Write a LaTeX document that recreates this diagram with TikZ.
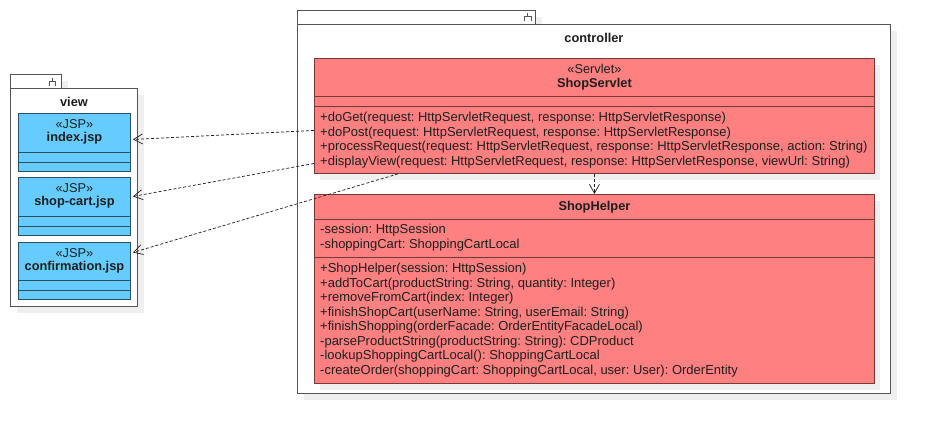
\documentclass[tikz,border=0pt]{standalone}
\usepackage{fontspec}
\setmainfont{Liberation Sans}
\usetikzlibrary{arrows.meta,shadows}
\frenchspacing
\tikzset{
  pkgbox/.style={draw=pkgline, fill=white, line width=0.9pt, inner sep=0pt, anchor=north west,
    drop shadow={shadow xshift=7pt, shadow yshift=-7pt, fill=shadowgrey, opacity=1}},
  pkgicon/.style={draw=pkgline, line width=0.8pt},
  pkgname/.style={font=\fontsize{12.8}{14}\selectfont\bfseries, text=txt},
  jspbox/.style={draw=jspline, fill=jspfill, line width=0.9pt, inner sep=0pt, anchor=north west,
    minimum width=112pt},
  classbox/.style={draw=clsline, fill=clsfill, line width=0.9pt, inner sep=0pt, anchor=north west,
    minimum width=560pt, drop shadow={shadow xshift=6pt, shadow yshift=-7pt, fill=shadowgrey, opacity=1}},
  stereo/.style={font=\fontsize{12.8}{14}\selectfont, text=txt},
  clsname/.style={font=\fontsize{12.8}{14}\selectfont\bfseries, text=txt},
  member/.style={anchor=base west, align=left, inner sep=0pt, font=\fontsize{13}{14.5}\selectfont, text=txt},
  dep/.style={draw=txt, line width=0.7pt, dash pattern=on 3pt off 2pt,
    -{Straight Barb[length=9pt,width=10pt]}},
}
\begin{document}
\begin{tikzpicture}[x=1pt,y=-1pt]
\definecolor{pkgline}{HTML}{555555}
\definecolor{shadowgrey}{HTML}{EFEFEF}
\definecolor{jspfill}{HTML}{66CCFF}
\definecolor{jspline}{HTML}{2E4E66}
\definecolor{clsfill}{HTML}{FF8080}
\definecolor{clsline}{HTML}{7A3A3A}
\definecolor{txt}{HTML}{1E1E1E}
\useasboundingbox (0,0) rectangle (930,434);
\node[pkgbox, minimum width=51pt, minimum height=14pt] (viewtab) at (10,74) {};
\node[pkgbox, minimum width=127pt, minimum height=218pt] (view) at (10,88) {};
\draw[pkgicon] (49,86) -- ++(0,-5) -- ++(6,0) -- ++(0,5) (52,81) -- ++(0,-3);
\node[pkgname] (viewname) at ([yshift=-14pt]view.north) {view};
\node[pkgbox, minimum width=238pt, minimum height=14pt] (ctrltab) at (297,10) {};
\node[pkgbox, minimum width=593pt, minimum height=369pt] (ctrl) at (297,24) {};
\draw[pkgicon] (524,21) -- ++(0,-5) -- ++(7,0) -- ++(0,5) (527.5,16) -- ++(0,-3);
\node[pkgname] (ctrlname) at ([yshift=-14pt]ctrl.north) {controller};
\node[jspbox, minimum height=58pt] (index) at (18,113) {};
\draw[jspline, line width=0.9pt] ([yshift=-39pt]index.north west) -- ([yshift=-39pt]index.north east) ([yshift=-49pt]index.north west) -- ([yshift=-49pt]index.north east);
\node[stereo] (indexstereo) at ([yshift=-11pt]index.north) {«JSP»};
\node[clsname] (indexname) at ([yshift=-25pt]index.north) {index.jsp};
\node[jspbox, minimum height=58pt] (cart) at (18,177) {};
\draw[jspline, line width=0.9pt] ([yshift=-39pt]cart.north west) -- ([yshift=-39pt]cart.north east) ([yshift=-49pt]cart.north west) -- ([yshift=-49pt]cart.north east);
\node[stereo] (cartstereo) at ([yshift=-11pt]cart.north) {«JSP»};
\node[clsname] (cartname) at ([yshift=-25pt]cart.north) {shop-cart.jsp};
\node[jspbox, minimum height=57pt] (confirm) at (18,242) {};
\draw[jspline, line width=0.9pt] ([yshift=-38pt]confirm.north west) -- ([yshift=-38pt]confirm.north east) ([yshift=-48pt]confirm.north west) -- ([yshift=-48pt]confirm.north east);
\node[stereo] (confirmstereo) at ([yshift=-11pt]confirm.north) {«JSP»};
\node[clsname] (confirmname) at ([yshift=-25pt]confirm.north) {confirmation.jsp};
\node[classbox, minimum height=115pt] (servlet) at (314,58) {};
\draw[clsline, line width=0.9pt] ([yshift=-38pt]servlet.north west) -- ([yshift=-38pt]servlet.north east) ([yshift=-48pt]servlet.north west) -- ([yshift=-48pt]servlet.north east);
\node[stereo] (servletstereo) at ([yshift=-11pt]servlet.north) {«Servlet»};
\node[clsname] (servletname) at ([yshift=-26pt]servlet.north) {ShopServlet};
\node[member] (servletops) at ([xshift=6pt,yshift=-107pt]servlet.north west) {+doGet(request: HttpServletRequest, response: HttpServletResponse)\\
+doPost(request: HttpServletRequest, response: HttpServletResponse)\\
+processRequest(request: HttpServletRequest, response: HttpServletResponse, action: String)\\
+displayView(request: HttpServletRequest, response: HttpServletResponse, viewUrl: String)};
\node[classbox, minimum height=189pt] (helper) at (314,194) {};
\draw[clsline, line width=0.9pt] ([yshift=-25pt]helper.north west) -- ([yshift=-25pt]helper.north east) ([yshift=-63pt]helper.north west) -- ([yshift=-63pt]helper.north east);
\node[clsname] (helpername) at ([yshift=-13pt]helper.north) {ShopHelper};
\node[member] (helperattrs) at ([xshift=6pt,yshift=-54pt]helper.north west) {-session: HttpSession\\
-shoppingCart: ShoppingCartLocal};
\node[member] (helperops) at ([xshift=6pt,yshift=-180pt]helper.north west) {+ShopHelper(session: HttpSession)\\
+addToCart(productString: String, quantity: Integer)\\
+removeFromCart(index: Integer)\\
+finishShopCart(userName: String, userEmail: String)\\
+finishShopping(orderFacade: OrderEntityFacadeLocal)\\
-parseProductString(productString: String): CDProduct\\
-lookupShoppingCartLocal(): ShoppingCartLocal\\
-createOrder(shoppingCart: ShoppingCartLocal, user: User): OrderEntity};
\draw[dep] (servlet.south) -- (helper.north);
\draw[dep] ([yshift=-14.5pt]servlet.west) -- ([shift={(2pt,3pt)}]index.east);
\draw[dep] ([yshift=-47.5pt]servlet.west) -- ([shift={(2pt,10pt)}]cart.east);
\draw[dep] ([xshift=84pt]servlet.south west) -- ([shift={(2pt,18.5pt)}]confirm.east);
\end{tikzpicture}
\end{document}
